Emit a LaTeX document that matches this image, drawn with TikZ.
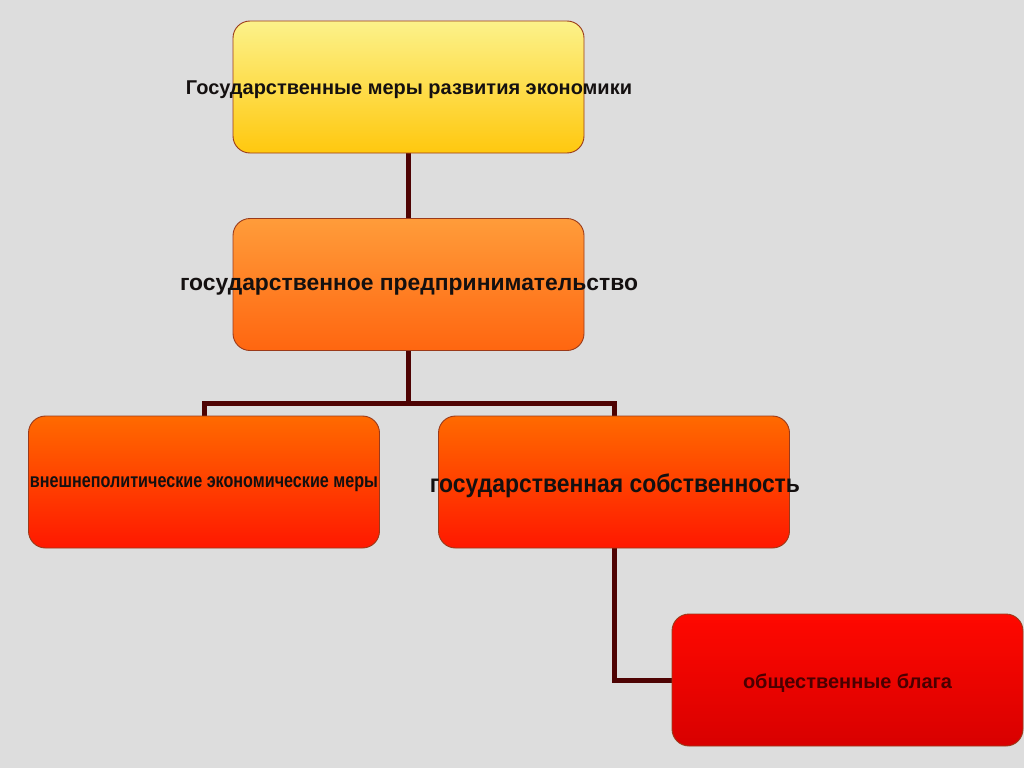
\documentclass[tikz,border=0pt]{standalone}
\usepackage{fontspec}
\setmainfont{Liberation Sans}
\usetikzlibrary{shadings,backgrounds}
\definecolor{bg}{HTML}{DDDDDD}
\definecolor{conncol}{HTML}{4E0303}
\definecolor{yTop}{HTML}{FCF28A}
\definecolor{yBot}{HTML}{FFC80E}
\definecolor{oTop}{HTML}{FF9C3A}
\definecolor{oBot}{HTML}{FF6610}
\definecolor{rTop}{HTML}{FF6A00}
\definecolor{rBot}{HTML}{FF1800}
\definecolor{dTop}{HTML}{FF0800}
\definecolor{dBot}{HTML}{D80000}
\definecolor{edge}{HTML}{9A3A1A}
\definecolor{txt}{HTML}{141010}
\definecolor{txtred}{HTML}{4A0000}
\tikzset{
  box/.style={draw=edge, line width=0.9pt, rounded corners=17pt, minimum width=351pt, minimum height=132pt, inner sep=0pt},
  conn/.style={draw=conncol, line width=5pt},
  lbl/.style={inner sep=0pt, text=txt, font=\bfseries}
}
\begin{document}
\begin{tikzpicture}[x=1pt,y=-1pt]
\node[box, top color=yTop, bottom color=yBot] (b1) at (408.5,87) {};
\node[box, top color=oTop, bottom color=oBot] (b2) at (408.5,284.5) {};
\node[box, top color=rTop, bottom color=rBot] (b3) at (204,482) {};
\node[box, top color=rTop, bottom color=rBot] (b4) at (614,482) {};
\node[box, top color=dTop, bottom color=dBot] (b5) at (847.5,680) {};
\coordinate (j) at (408.5,403);
\begin{scope}[on background layer]
\fill[bg] (0,0) rectangle (1024,768);
\draw[conn] (b1.south) -- (b2.north);
\draw[conn] (b2.south) -- (j);
\draw[conn] (j) -| (b3.north);
\draw[conn] (j) -| (b4.north);
\draw[conn] (b4.south) |- (b5.west);
\end{scope}
% labels
\node[lbl] (t1) at (409,90) {\resizebox{446pt}{!}{Государственные меры развития экономики}};
\node[lbl] (t2) at (409,287) {\resizebox{458pt}{!}{государственное предпринимательство}};
\node[lbl] (t3) at (204,484) {\resizebox{348pt}{!}{\scalebox{0.8}[1]{внешнеполитические экономические меры}}};
\node[lbl] (t4) at (615,486) {\resizebox{370pt}{!}{\scalebox{0.9}[1]{государственная собственность}}};
\node[lbl, text=txtred] (t5) at (847.5,683) {\resizebox{209pt}{!}{общественные блага}};
\useasboundingbox (0,0) rectangle (1024,768);
\end{tikzpicture}
\end{document}
